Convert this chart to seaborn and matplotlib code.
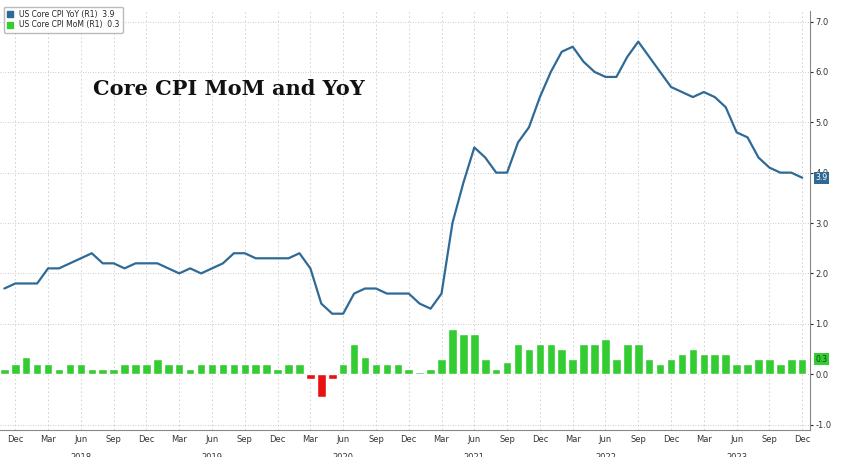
import matplotlib
matplotlib.use("Agg")
import matplotlib.pyplot as plt
import seaborn as sns
import pandas as pd
import numpy as np

months = pd.date_range("2017-11-01", "2023-12-01", freq="MS")
yoy = [1.7, 1.8, 1.8, 1.8, 2.1, 2.1, 2.2, 2.3, 2.4, 2.2, 2.2, 2.1, 2.2, 2.2,
       2.2, 2.1, 2.0, 2.1, 2.0, 2.1, 2.2, 2.4, 2.4, 2.3, 2.3, 2.3,
       2.3, 2.4, 2.1, 1.4, 1.2, 1.2, 1.6, 1.7, 1.7, 1.6, 1.6, 1.6,
       1.4, 1.3, 1.6, 3.0, 3.8, 4.5, 4.3, 4.0, 4.0, 4.6, 4.9, 5.5,
       6.0, 6.4, 6.5, 6.2, 6.0, 5.9, 5.9, 6.3, 6.6, 6.3, 6.0, 5.7,
       5.6, 5.5, 5.6, 5.5, 5.3, 4.8, 4.7, 4.3, 4.1, 4.0, 4.0, 3.9]
mom = [0.1, 0.2, 0.35, 0.2, 0.2, 0.1, 0.2, 0.2, 0.1, 0.1, 0.1, 0.2, 0.2, 0.2,
       0.3, 0.2, 0.2, 0.1, 0.2, 0.2, 0.2, 0.2, 0.2, 0.2, 0.2, 0.1,
       0.2, 0.2, -0.1, -0.45, -0.1, 0.2, 0.6, 0.35, 0.2, 0.2, 0.2, 0.1,
       0.05, 0.1, 0.3, 0.9, 0.8, 0.8, 0.3, 0.1, 0.25, 0.6, 0.5, 0.6,
       0.6, 0.5, 0.3, 0.6, 0.6, 0.7, 0.3, 0.6, 0.6, 0.3, 0.2, 0.3,
       0.4, 0.5, 0.4, 0.4, 0.4, 0.2, 0.2, 0.3, 0.3, 0.2, 0.3, 0.3]

df = pd.DataFrame({"i": np.arange(len(months)), "yoy": yoy, "mom": mom})
df["sign"] = np.where(df["mom"] < 0, "neg", "pos")

sns.set_style("white")
fig, ax = plt.subplots(figsize=(8.48, 4.57), dpi=100)
fig.subplots_adjust(left=0.0, right=0.955, top=0.975, bottom=0.06)

sns.barplot(data=df, x="i", y="mom", hue="sign", palette={"pos": "#33cc33", "neg": "#e81010"},
            native_scale=True, width=0.78, legend=False, ax=ax, zorder=2,
            saturation=1)
sns.lineplot(data=df, x="i", y="yoy", color="#2f6a96", lw=1.6, ax=ax, zorder=3)

ax.set_xlim(-0.4, len(months) - 0.3)
ax.set_ylim(-1.1, 7.2)
ax.yaxis.tick_right()
ax.set_yticks(np.arange(-1, 8, 1.0))
ax.set_yticklabels([f"{v:.1f}" for v in np.arange(-1, 8, 1.0)], fontsize=6, color="#333")
ax.set_ylabel(""); ax.set_xlabel("")
ax.grid(axis="y", ls=(0, (1, 2)), color="#bbb", lw=0.6)

ticks = [k for k, m in enumerate(months) if m.month in (3, 6, 9, 12)]
ax.set_xticks(ticks)
ax.set_xticklabels([months[k].strftime("%b") for k in ticks], fontsize=6, color="#333")
for k in ticks:
    ax.axvline(k, ls=(0, (2, 3)), color="#ccc", lw=0.6, zorder=0)
for k, m in enumerate(months):
    if m.month == 6:
        ax.text(k, -0.055, str(m.year), transform=ax.get_xaxis_transform(),
                ha="center", va="top", fontsize=6, color="#333")
ax.set_xticks(range(len(months)), minor=True)
ax.tick_params(axis="x", which="both", length=2, pad=2)
ax.tick_params(axis="y", length=2, pad=2)
for s in ["top", "left"]:
    ax.spines[s].set_visible(False)
ax.spines["bottom"].set_color("#888"); ax.spines["right"].set_color("#888")

ax.text(0.115, 0.80, "Core CPI MoM and YoY", transform=ax.transAxes, fontsize=15,
        fontweight="bold", family="DejaVu Serif", color="#111")

from matplotlib.patches import Patch
leg = ax.legend(handles=[Patch(color="#2f6a96", label="US Core CPI YoY (R1)  3.9"),
                         Patch(color="#33cc33", label="US Core CPI MoM (R1)  0.3")],
                loc="upper left", bbox_to_anchor=(0.0, 1.02), fontsize=5.5, frameon=True,
                handlelength=0.8, handleheight=0.8, borderpad=0.4, labelspacing=0.2)
leg.get_frame().set_edgecolor("#aaa")

ax.annotate("3.9", xy=(1.0, 3.9), xycoords=("axes fraction", "data"), xytext=(4, 0),
            textcoords="offset points", va="center", fontsize=5.5, color="white",
            bbox=dict(boxstyle="square,pad=0.2", fc="#2f6a96", ec="none"))
ax.annotate("0.3", xy=(1.0, 0.3), xycoords=("axes fraction", "data"), xytext=(4, 0),
            textcoords="offset points", va="center", fontsize=5.5, color="#114411",
            bbox=dict(boxstyle="square,pad=0.2", fc="#33cc33", ec="none"))

fig.savefig("out.png", dpi=100)
